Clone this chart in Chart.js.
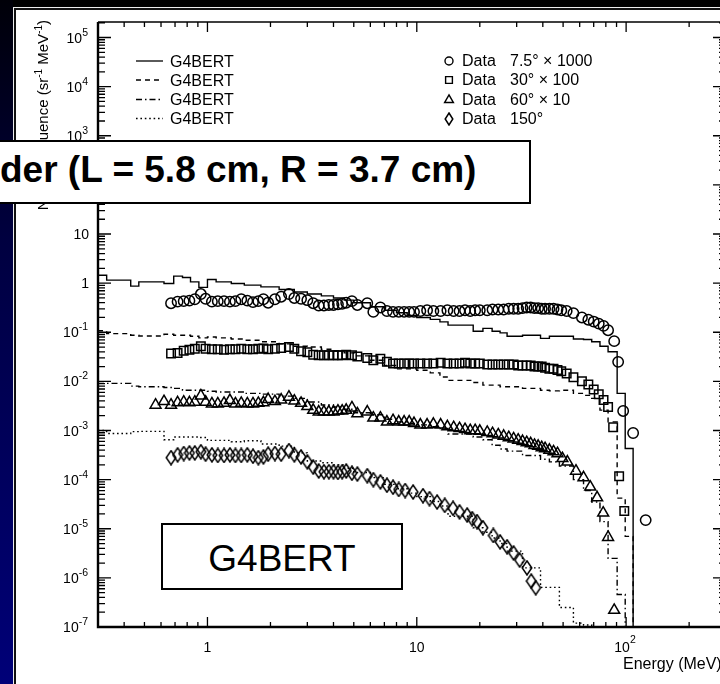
<!DOCTYPE html>
<html lang="en">
<head>
<meta charset="UTF-8">
<title>Neutron spectra - G4BERT</title>
<script src="https://cdn.jsdelivr.net/npm/chart.js@4.4.2/dist/chart.umd.min.js"></script>
<style>
  html, body { margin: 0; padding: 0; }
  body {
    width: 720px; height: 684px; overflow: hidden; position: relative;
    background: #000;
    font-family: "Liberation Sans", Arial, Helvetica, sans-serif;
  }
  #band {
    position: absolute; left: 0; top: 0; width: 13px; height: 684px;
    background: linear-gradient(to bottom, #000008 0%, #000040 35%, #000078 100%);
  }
  #panelOuter { position: absolute; left: 13px; top: 7px; width: 800px; height: 800px; background: #eee; }
  #panel {
    position: absolute; left: 14px; top: 8px; width: 800px; height: 800px; background: #fff;
    border-left: 2px solid #111; border-top: 2px solid #111;
  }
  #spectra { position: absolute; left: 0; top: 0; }
  .box { position: absolute; background: #fff; border: 2px solid #000; box-sizing: border-box; }
  #setupBox { left: -10px; top: 140px; width: 541px; height: 64px; }
  #setupText {
    position: absolute; left: 0; top: 151px; font-size: 37px; line-height: 37px;
    font-weight: bold; white-space: nowrap; color: #000;
  }
  #modelBox { left: 161px; top: 523px; width: 242px; height: 67px; }
  #modelText {
    position: absolute; left: 161px; top: 540px; width: 242px; text-align: center;
    font-size: 37px; line-height: 37px; color: #000;
  }
</style>
</head>
<body>
<div id="band"></div>
<div id="panelOuter"></div>
<div id="panel"></div>
<canvas id="spectra" width="740" height="684"></canvas>
<div class="box" id="setupBox"></div>
<div id="setupText">der (L = 5.8 cm, R = 3.7 cm)</div>
<div class="box" id="modelBox"></div>
<div id="modelText">G4BERT</div>

<script>
// Energies in MeV, yields in sr^-1 MeV^-1 (already multiplied as in the legend)

// --- G4BERT histograms: bin edges shared by the four angles ---
const binEdges = [0.3, 0.33, 0.43, 0.47, 0.62, 0.69, 0.76, 0.83, 0.91, 1.0, 1.1, 1.3, 1.5, 1.8, 2.2, 2.6,
  3.0, 3.5, 4.0, 4.5, 5.0, 6.0, 7.0, 8.0, 9.0, 10, 11.6, 12.9, 14.1, 18.6, 20.7, 22.9, 25, 27, 32, 39,
  43, 48, 56, 62.6, 68.5, 75, 82, 90.6, 99, 108];

const sim7_5 = [1.45, 1.15, 0.87, 1.06, 0.98, 1.39, 1.30, 1.06, 0.82, 1.19, 1.06, 0.98, 0.91, 0.84, 0.74, 0.66,
  0.60, 0.55, 0.50, 0.45, 0.40, 0.33, 0.28, 0.25, 0.22, 0.20, 0.183, 0.163, 0.14, 0.105, 0.12, 0.105,
  0.097, 0.083, 0.087, 0.075, 0.083, 0.083, 0.073, 0.071, 0.064, 0.052, 0.04, 0.0057, 0.00043];

const sim30 = [0.107, 0.094, 0.087, 0.084, 0.091, 0.087, 0.087, 0.083, 0.077, 0.080, 0.077, 0.073, 0.069, 0.064,
  0.058, 0.052, 0.050, 0.045, 0.042, 0.038, 0.033, 0.027, 0.021, 0.018, 0.018, 0.0169, 0.0149, 0.0123,
  0.0105, 0.0095, 0.0084, 0.0084, 0.0078, 0.0078, 0.0072, 0.0066, 0.0064, 0.0066, 0.0057, 0.0052, 0.0045,
  0.0026, 0.0015, 4.2e-5, 7e-6];

const sim60 = [0.0091, 0.0091, 0.0080, 0.0078, 0.0075, 0.0072, 0.0066, 0.0066, 0.0066, 0.0063, 0.0061, 0.0061,
  0.0057, 0.0055, 0.0050, 0.0045, 0.0038, 0.0033, 0.0030, 0.0027, 0.0023, 0.0021, 0.0017, 0.0015, 0.0014,
  0.0013, 0.0012, 0.0011, 8.5e-4, 7.4e-4, 6.5e-4, 5.0e-4, 4.2e-4, 3.8e-4, 3.1e-4, 2.6e-4, 2.3e-4, 1.9e-4,
  1.0e-4, 6.0e-5, 3.5e-5, 1.4e-5, 2.5e-6, 4.6e-7, 1e-9];

const sim150 = [1.0e-3, 8.7e-4, 9.5e-4, 9.6e-4, 6.5e-4, 7.4e-4, 7.4e-4, 7.4e-4, 7.2e-4, 6.3e-4, 6.3e-4, 5.9e-4,
  6.2e-4, 5.3e-4, 4.8e-4, 3.5e-4, 2.4e-4, 2.2e-4, 2.0e-4, 1.7e-4, 1.4e-4, 1.1e-4, 8.0e-5, 6.5e-5, 5.3e-5,
  4.5e-5, 3.6e-5, 2.9e-5, 1.8e-5, 1.05e-5, 8.5e-6, 6.5e-6, 5.0e-6, 3.5e-6, 1.6e-6, 6.4e-7, 6.4e-7, 2.5e-7,
  1.2e-7, 1.1e-7, 1e-9, 1e-9, 1e-9, 1e-9, 1e-9];

// --- measured points ---
const data7_5E = [0.67, 0.72, 0.77, 0.82, 0.87, 0.93, 0.98, 1.05, 1.12, 1.2, 1.28, 1.36, 1.45, 1.55, 1.65, 1.75,
  1.85, 1.95, 2.1, 2.25, 2.45, 2.6, 2.8, 3.0, 3.2, 3.4, 3.6, 3.8, 4.0, 4.2, 4.4, 4.6, 4.9, 5.2, 5.8, 6.2, 6.7,
  7.2, 7.7, 8.2, 8.7, 9.2, 9.7, 10.4, 11.2, 12, 13, 14, 15, 16, 17, 18, 19, 20, 21.7, 23, 24.5, 26, 27.5, 29,
  30.5, 32, 33.5, 35, 36.5, 38, 39.5, 41, 43, 45, 47, 49, 52, 56, 61.5, 66, 70, 74, 78, 82, 87.7, 91.6, 96.8,
  108, 124];
const data7_5 = [0.39, 0.42, 0.43, 0.44, 0.47, 0.60, 0.48, 0.42, 0.43, 0.43, 0.42, 0.43, 0.47, 0.44, 0.41, 0.43,
  0.47, 0.40, 0.47, 0.53, 0.60, 0.50, 0.48, 0.45, 0.39, 0.35, 0.35, 0.36, 0.36, 0.37, 0.38, 0.40, 0.43, 0.36,
  0.39, 0.26, 0.32, 0.27, 0.26, 0.26, 0.26, 0.26, 0.26, 0.27, 0.28, 0.27, 0.27, 0.28, 0.27, 0.27, 0.28, 0.27,
  0.28, 0.28, 0.28, 0.29, 0.29, 0.29, 0.30, 0.30, 0.30, 0.31, 0.32, 0.32, 0.31, 0.31, 0.30, 0.30, 0.30, 0.30,
  0.29, 0.28, 0.27, 0.245, 0.20, 0.18, 0.165, 0.15, 0.135, 0.11, 0.066, 0.025, 0.0025, 0.00089, 1.5e-5];

const data30E = [0.67, 0.72, 0.77, 0.82, 0.87, 0.93, 0.98, 1.05, 1.12, 1.2, 1.28, 1.36, 1.45, 1.55, 1.65, 1.75,
  1.85, 1.95, 2.1, 2.25, 2.45, 2.6, 2.8, 3.0, 3.2, 3.4, 3.6, 3.8, 4.0, 4.2, 4.4, 4.6, 4.9, 5.2, 5.8, 6.2, 6.7,
  7.2, 7.7, 8.2, 8.7, 9.2, 9.7, 10.4, 11.2, 12, 13, 14, 15, 16, 17, 18, 19, 20, 21.7, 23, 24.5, 26, 27.5, 29,
  30.5, 32, 33.5, 35, 36.5, 38, 39.5, 41, 43, 45, 47, 49, 52, 56, 61.5, 66, 70, 74, 78, 82, 86.7, 92.6, 98];
const data30 = [0.037, 0.038, 0.042, 0.044, 0.046, 0.052, 0.046, 0.045, 0.045, 0.044, 0.045, 0.045, 0.046, 0.045,
  0.045, 0.046, 0.047, 0.045, 0.046, 0.048, 0.050, 0.046, 0.041, 0.039, 0.035, 0.034, 0.034, 0.034, 0.034,
  0.034, 0.034, 0.035, 0.034, 0.032, 0.030, 0.027, 0.029, 0.025, 0.023, 0.023, 0.023, 0.023, 0.023, 0.023,
  0.023, 0.023, 0.024, 0.023, 0.023, 0.023, 0.024, 0.023, 0.023, 0.023, 0.022, 0.022, 0.022, 0.022, 0.022,
  0.022, 0.021, 0.021, 0.021, 0.021, 0.020, 0.020, 0.020, 0.019, 0.018, 0.018, 0.017, 0.016, 0.0145, 0.0122,
  0.0101, 0.0086, 0.0068, 0.0055, 0.0042, 0.003, 0.00117, 1.17e-4, 2.3e-5];

const data60E = [0.565, 0.62, 0.67, 0.72, 0.77, 0.82, 0.87, 0.93, 0.98, 1.05, 1.12, 1.2, 1.28, 1.36, 1.45, 1.55,
  1.65, 1.75, 1.85, 1.95, 2.1, 2.25, 2.45, 2.6, 2.8, 3.0, 3.2, 3.4, 3.6, 3.8, 4.0, 4.2, 4.4, 4.6, 4.9, 5.2, 5.8,
  6.2, 6.7, 7.2, 7.7, 8.2, 8.7, 9.2, 9.7, 10.4, 11.2, 12, 13, 14, 15, 16, 17, 18, 19, 20, 21.7, 23, 24.5, 26,
  27.5, 29, 30.5, 32, 33.5, 35, 36.5, 38, 39.5, 41, 43, 45, 47, 49.6, 52.4, 57.6, 62.6, 67.4, 72.7, 77.7, 82, 87.7];
const data60 = [0.0033, 0.0039, 0.0033, 0.0037, 0.0038, 0.0037, 0.0038, 0.0051, 0.0038, 0.0035, 0.0035, 0.0036,
  0.0041, 0.0035, 0.0036, 0.0035, 0.0035, 0.0036, 0.0037, 0.0043, 0.0039, 0.0042, 0.0048, 0.0040, 0.0036,
  0.0031, 0.0026, 0.0024, 0.0024, 0.0024, 0.0024, 0.0025, 0.0025, 0.0026, 0.0029, 0.0022, 0.0024, 0.0018,
  0.0018, 0.0015, 0.0016, 0.0015, 0.0015, 0.0015, 0.0014, 0.0013, 0.0013, 0.00135, 0.0013, 0.0012, 0.00115,
  0.0011, 0.00105, 0.001, 0.001, 0.00097, 9.2e-4, 8.7e-4, 8.2e-4, 7.7e-4, 7.2e-4, 6.8e-4, 6.4e-4, 6.0e-4,
  5.7e-4, 5.4e-4, 5.0e-4, 4.8e-4, 4.5e-4, 4.3e-4, 4.0e-4, 3.7e-4, 3.4e-4, 2.7e-4, 2.3e-4, 1.5e-4, 1.1e-4,
  7.1e-5, 4.3e-5, 2.1e-5, 6.7e-6, 2.2e-7];

const data150E = [0.67, 0.72, 0.77, 0.82, 0.87, 0.93, 0.98, 1.05, 1.12, 1.2, 1.28, 1.36, 1.45, 1.55, 1.65, 1.75,
  1.85, 1.95, 2.1, 2.25, 2.45, 2.6, 2.8, 3.0, 3.2, 3.4, 3.6, 3.8, 4.0, 4.2, 4.4, 4.6, 4.9, 5.2, 5.8, 6.2, 6.7,
  7.2, 7.7, 8.2, 8.8, 9.6, 10.7, 11.5, 12.5, 13.6, 14.9, 16, 17.4, 18.4, 19.4, 20.7, 23.2, 25, 27, 29, 31,
  33.6, 35.2, 37];
const data150 = [2.8e-4, 3.2e-4, 3.4e-4, 3.5e-4, 3.5e-4, 3.7e-4, 3.3e-4, 3.2e-4, 3.1e-4, 3.1e-4, 3.2e-4, 3.1e-4,
  3.1e-4, 3.2e-4, 3.0e-4, 2.8e-4, 2.9e-4, 3.3e-4, 3.4e-4, 3.3e-4, 3.9e-4, 3.2e-4, 2.9e-4, 2.3e-4, 1.8e-4,
  1.5e-4, 1.45e-4, 1.45e-4, 1.45e-4, 1.4e-4, 1.45e-4, 1.5e-4, 1.35e-4, 1.3e-4, 1.2e-4, 1.0e-4, 9.0e-5, 7.7e-5,
  7.0e-5, 6.3e-5, 6.0e-5, 5.6e-5, 4.7e-5, 4.1e-5, 3.5e-5, 3.0e-5, 2.6e-5, 2.2e-5, 1.9e-5, 1.6e-5, 1.4e-5,
  1.05e-5, 7.3e-6, 5.4e-6, 4.3e-6, 3.2e-6, 2.3e-6, 1.6e-6, 8.6e-7, 6.3e-7];

const dataLabels = ['7.5\u00b0 \u00d7 1000', '30\u00b0 \u00d7 100', '60\u00b0 \u00d7 10', '150\u00b0'];
const yDecades = [-7, -6, -5, -4, -3, -2, -1, 0, 1, 2, 3, 4, 5];
const xDecades = [0, 1, 2];

const FONT = '"Liberation Sans", Arial, Helvetica, sans-serif';
const dashes = [[], [5, 4], [6, 3, 1.5, 3], [1.6, 2.8]];

// ROOT style open diamond (taller than wide)
function diamondImage(w, h) {
  const c = document.createElement('canvas');
  c.width = w; c.height = h;
  const g = c.getContext('2d');
  g.strokeStyle = '#000';
  g.lineWidth = 1.5;
  g.beginPath();
  g.moveTo(w / 2, 1); g.lineTo(w - 1.2, h / 2); g.lineTo(w / 2, h - 1); g.lineTo(1.2, h / 2);
  g.closePath();
  g.stroke();
  return c;
}
const diamond = diamondImage(12, 16);
const diamondSmall = diamondImage(10, 14);

function histPoints(vals) {
  const pts = vals.map((v, i) => ({ x: binEdges[i], y: v }));
  pts.push({ x: binEdges[binEdges.length - 1], y: 1e-9 });
  return pts;
}
function pointsOf(es, vs) {
  return es.map((e, i) => ({ x: e, y: vs[i] }));
}

function histSet(vals, dash) {
  return {
    data: histPoints(vals), showLine: true, stepped: 'before',
    borderColor: '#000', borderWidth: 1.4, borderDash: dash, pointRadius: 0, fill: false
  };
}
const markers = [
  { pointStyle: 'circle', radius: 5.2 },
  { pointStyle: 'rect', radius: 6 },
  { pointStyle: 'triangle', radius: 6.3 },
  { pointStyle: diamond, radius: 6 }
];
const legendStyles = ['circle', 'rect', 'triangle', diamondSmall];
function dataSet(es, vs, m) {
  return {
    data: pointsOf(es, vs), showLine: false, pointStyle: m.pointStyle, pointRadius: m.radius,
    borderColor: '#000', backgroundColor: 'rgba(0,0,0,0)', borderWidth: 1.5
  };
}

const axesPlugin = {
  id: 'rootAxes',
  afterDatasetsDraw(chart) {
    const { ctx, chartArea: a, scales: { x, y } } = chart;
    ctx.save();
    ctx.strokeStyle = '#000';
    ctx.fillStyle = '#000';

    // frame
    ctx.lineWidth = 1.5;
    ctx.beginPath();
    ctx.moveTo(a.left, a.top); ctx.lineTo(a.right, a.top);
    ctx.moveTo(a.right, a.top); ctx.lineTo(a.right, a.bottom);
    ctx.stroke();
    ctx.lineWidth = 2.4;
    ctx.beginPath();
    ctx.moveTo(a.left, a.top); ctx.lineTo(a.left, a.bottom); ctx.lineTo(a.right, a.bottom);
    ctx.stroke();

    // y ticks (inside, both sides)
    ctx.lineWidth = 1.3;
    ctx.beginPath();
    yDecades.forEach(e => {
      for (let k = 1; k <= 9; k++) {
        const v = k * Math.pow(10, e);
        if (v > y.max || v < y.min) continue;
        const py = y.getPixelForValue(v);
        const len = k === 1 ? 13 : 7;
        ctx.moveTo(a.left, py); ctx.lineTo(a.left + len, py);
        ctx.moveTo(a.right, py); ctx.lineTo(a.right - len, py);
      }
    });
    // x ticks (inside, top and bottom)
    [-1, 0, 1, 2].forEach(e => {
      for (let k = 1; k <= 9; k++) {
        const v = k * Math.pow(10, e);
        if (v < x.min - 1e-9 || v > x.max + 1e-9) continue;
        const px = x.getPixelForValue(v);
        const major = k === 1;
        ctx.moveTo(px, a.bottom); ctx.lineTo(px, a.bottom - (major ? 10 : 5));
        ctx.moveTo(px, a.top); ctx.lineTo(px, a.top + (major ? 10 : 5));
      }
    });
    ctx.stroke();

    // y tick labels
    const labelRight = 88;
    ctx.textBaseline = 'alphabetic';
    yDecades.forEach(e => {
      const py = y.getPixelForValue(Math.pow(10, e));
      if (e === 0 || e === 1) {
        ctx.font = '14px ' + FONT;
        ctx.textAlign = 'right';
        ctx.fillText(e === 0 ? '1' : '10', labelRight + 1, py + 5);
        return;
      }
      ctx.font = '10.5px ' + FONT;
      const ex = String(e);
      const ew = ctx.measureText(ex).width;
      ctx.textAlign = 'left';
      ctx.fillText(ex, labelRight - ew, py - 2);
      ctx.font = '14px ' + FONT;
      ctx.textAlign = 'right';
      ctx.fillText('10', labelRight - ew, py + 5);
    });

    // x tick labels
    ctx.font = '14px ' + FONT;
    ctx.textAlign = 'center';
    xDecades.forEach(e => {
      const px = x.getPixelForValue(Math.pow(10, e));
      if (e === 0) ctx.fillText('1', px, 652);
      else if (e === 1) ctx.fillText('10', px, 652);
      else {
        ctx.fillText('10', px - 4, 652);
        ctx.font = '10.5px ' + FONT;
        ctx.textAlign = 'left';
        ctx.fillText(String(e), px + 4, 643);
        ctx.font = '14px ' + FONT;
        ctx.textAlign = 'center';
      }
    });

    // x title
    ctx.font = '16px ' + FONT;
    ctx.textAlign = 'left';
    ctx.fillText('Energy (MeV)', 623, 669);

    // y title, rotated, ending at the top of the axis
    const parts = [['Neutron Fluence (sr', 15, 0], ['-1', 10, -6], [' MeV', 15, 0], ['-1', 10, -6], [')', 15, 0]];
    let total = 0;
    parts.forEach(p => { ctx.font = p[1] + 'px ' + FONT; p.push(ctx.measureText(p[0]).width); total += p[3]; });
    ctx.save();
    ctx.translate(48, 20);
    ctx.rotate(-Math.PI / 2);
    ctx.textAlign = 'left';
    let cx = -total;
    parts.forEach(p => {
      ctx.font = p[1] + 'px ' + FONT;
      ctx.fillText(p[0], cx, p[2]);
      cx += p[3];
    });
    ctx.restore();

    // legend: simulation lines
    const rowsL = [61, 80, 99.5, 118.5];
    ctx.font = '16px ' + FONT;
    ctx.textAlign = 'left';
    ctx.lineWidth = 1.3;
    rowsL.forEach((ry, i) => {
      ctx.setLineDash(dashes[i]);
      ctx.beginPath();
      ctx.moveTo(136, ry); ctx.lineTo(163, ry);
      ctx.stroke();
      ctx.setLineDash([]);
      ctx.fillText('G4BERT', 170, ry + 5.7);
    });

    // legend: data markers
    const rowsR = [61, 80, 100, 119];
    rowsR.forEach((ry, i) => {
      ctx.fillStyle = 'rgba(0,0,0,0)';
      ctx.lineWidth = 1.4;
      Chart.helpers.drawPoint(ctx, { pointStyle: legendStyles[i], radius: markers[i].radius - 1.2,
        borderWidth: 1.4, rotation: 0 }, 449, ry);
      ctx.fillStyle = '#000';
      ctx.fillText('Data', 462, ry + 4.5);
      ctx.fillText(dataLabels[i], 510, ry + 4.5);
    });
    ctx.restore();
  }
};

new Chart(document.getElementById('spectra'), {
  type: 'scatter',
  data: {
    datasets: [
      histSet(sim7_5, dashes[0]),
      histSet(sim30, dashes[1]),
      histSet(sim60, dashes[2]),
      histSet(sim150, dashes[3]),
      dataSet(data7_5E, data7_5, markers[0]),
      dataSet(data30E, data30, markers[1]),
      dataSet(data60E, data60, markers[2]),
      dataSet(data150E, data150, markers[3])
    ]
  },
  options: {
    responsive: false,
    animation: false,
    events: [],
    layout: { padding: { left: 98, top: 22, right: 14, bottom: 57 } },
    scales: {
      x: { type: 'logarithmic', min: 0.3, max: 300, display: false },
      y: { type: 'logarithmic', min: 1e-7, max: 2.07e5, display: false }
    },
    plugins: { legend: { display: false }, tooltip: { enabled: false } }
  },
  plugins: [axesPlugin]
});
</script>
</body>
</html>
